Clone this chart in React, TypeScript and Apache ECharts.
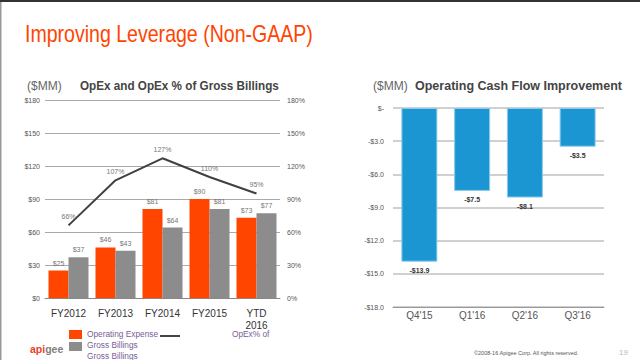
import React, { useEffect, useRef } from "react";
import * as echarts from "echarts";

const leftCategories = ["FY2012", "FY2013", "FY2014", "FY2015", "YTD\n2016"];
const opexValues = [25, 46, 81, 90, 73];
const billingsValues = [37, 43, 64, 81, 77];
const opexPctValues = [66, 107, 127, 110, 95];

const rightCategories = ["Q4'15", "Q1'16", "Q2'16", "Q3'16"];
const cashFlowValues = [-13.9, -7.5, -8.1, -3.5];

const FONT = "'Liberation Sans', Arial, sans-serif";

export default function App() {
  const ref = useRef<HTMLDivElement>(null);
  useEffect(() => {
    if (!ref.current) return;
    const chart = echarts.init(ref.current, undefined, { renderer: "svg" });
    chart.setOption({
      animation: false,
      textStyle: { fontFamily: FONT },
      grid: [
        { left: 45, top: 100, width: 235, height: 198 },
        { left: 393, top: 108, width: 211, height: 199 },
      ],
      xAxis: [
        {
          type: "category",
          gridIndex: 0,
          data: leftCategories,
          axisLine: { lineStyle: { color: "#888", width: 1 } },
          axisTick: { show: false },
          axisLabel: { color: "#333", fontSize: 10, margin: 9, lineHeight: 12, fontFamily: FONT },
        },
        {
          type: "category",
          gridIndex: 1,
          data: rightCategories,
          axisLine: { onZero: false, lineStyle: { color: "#999", width: 1 } },
          axisTick: { show: false },
          axisLabel: { color: "#555", fontSize: 10, margin: 3, fontFamily: FONT },
        },
      ],
      yAxis: [
        {
          type: "value",
          gridIndex: 0,
          min: 0,
          max: 180,
          interval: 30,
          axisLine: { show: false },
          axisTick: { show: false },
          splitLine: { lineStyle: { color: "#aaa", width: 1 } },
          axisLabel: { color: "#555", fontSize: 7, margin: 5, formatter: (v: number) => "$" + v },
        },
        {
          type: "value",
          gridIndex: 0,
          min: 0,
          max: 180,
          interval: 30,
          position: "right",
          axisLine: { show: false },
          axisTick: { show: false },
          splitLine: { show: false },
          axisLabel: { color: "#555", fontSize: 7, margin: 7, formatter: (v: number) => v + "%" },
        },
        {
          type: "value",
          gridIndex: 1,
          min: -18,
          max: 0,
          interval: 3,
          axisLine: { show: false },
          axisTick: { show: false },
          splitLine: { lineStyle: { color: "#d0d0d0", width: 2 } },
          axisLabel: {
            color: "#555",
            fontSize: 7,
            margin: 9,
            formatter: (v: number) => (v === 0 ? "$-" : "-$" + Math.abs(v).toFixed(1)),
          },
        },
      ],
      series: [
        {
          name: "Operating Expense",
          type: "bar",
          xAxisIndex: 0,
          yAxisIndex: 0,
          data: opexValues,
          barWidth: 20,
          barGap: "0%",
          itemStyle: { color: "#ff4500" },
          label: { show: true, position: "top", color: "#777", fontSize: 7, distance: 4, formatter: "${c}" },
        },
        {
          name: "Gross Billings",
          type: "bar",
          xAxisIndex: 0,
          yAxisIndex: 0,
          data: billingsValues,
          barWidth: 20,
          barGap: "0%",
          itemStyle: { color: "#8c8c8c" },
          label: { show: true, position: "top", color: "#777", fontSize: 7, distance: 4, formatter: "${c}" },
        },
        {
          name: "OpEx% of Gross Billings",
          type: "line",
          xAxisIndex: 0,
          yAxisIndex: 1,
          data: opexPctValues,
          symbol: "circle",
          symbolSize: 1,
          showSymbol: true,
          itemStyle: { color: "rgba(0,0,0,0)" },
          lineStyle: { color: "#404040", width: 2 },
          label: { show: true, position: "top", color: "#777", fontSize: 7, distance: 5, formatter: "{c}%" },
          z: 5,
        },
        {
          name: "Operating Cash Flow",
          type: "bar",
          xAxisIndex: 1,
          yAxisIndex: 2,
          data: cashFlowValues,
          barWidth: 36,
          itemStyle: { color: "#1b96d3", borderColor: "#8ccbeb", borderWidth: 1 },
          label: {
            show: true,
            position: "bottom",
            color: "#333",
            fontSize: 7,
            fontWeight: "bold",
            distance: 5,
            formatter: (p: any) => "-$" + Math.abs(p.value).toFixed(1),
          },
        },
      ],
      graphic: [
        { type: "rect", shape: { x: 0, y: 0, width: 640, height: 2 }, style: { fill: "#333" } },
        { type: "rect", shape: { x: 0, y: 2, width: 1.5, height: 358 }, style: { fill: "#999" } },
        {
          type: "text",
          x: 25,
          y: 34,
          scaleX: 0.815,
          style: {
            text: "Improving Leverage (Non-GAAP)",
            fill: "#ff4500",
            fontSize: 24,
            fontFamily: FONT,
            verticalAlign: "middle",
          },
        },
        {
          type: "text",
          x: 27,
          y: 86,
          style: { text: "($MM)", fill: "#666", fontSize: 12, fontFamily: FONT, verticalAlign: "middle" },
        },
        {
          type: "text",
          x: 80,
          y: 86,
          scaleX: 0.9,
          style: {
            text: "OpEx and OpEx % of Gross Billings",
            fill: "#444",
            fontSize: 13,
            fontWeight: "bold",
            fontFamily: FONT,
            verticalAlign: "middle",
          },
        },
        {
          type: "text",
          x: 373,
          y: 86,
          style: { text: "($MM)", fill: "#666", fontSize: 12, fontFamily: FONT, verticalAlign: "middle" },
        },
        {
          type: "text",
          x: 415,
          y: 86,
          style: {
            text: "Operating Cash Flow Improvement",
            fill: "#444",
            fontSize: 12.5,
            fontWeight: "bold",
            fontFamily: FONT,
            verticalAlign: "middle",
          },
        },
        { type: "rect", shape: { x: 69, y: 330, width: 13, height: 9 }, style: { fill: "#ff4500" } },
        { type: "rect", shape: { x: 69, y: 342, width: 13, height: 9 }, style: { fill: "#8c8c8c" } },
        {
          type: "line",
          shape: { x1: 160, y1: 336, x2: 180, y2: 336 },
          style: { stroke: "#444", lineWidth: 2 },
        },
        {
          type: "text",
          x: 87,
          y: 334,
          style: { text: "Operating Expense", fill: "#7a5c96", fontSize: 8.3, fontFamily: FONT, verticalAlign: "middle" },
        },
        {
          type: "text",
          x: 232,
          y: 334,
          style: { text: "OpEx% of", fill: "#7a5c96", fontSize: 8.3, fontFamily: FONT, verticalAlign: "middle" },
        },
        {
          type: "text",
          x: 87,
          y: 345,
          style: { text: "Gross Billings", fill: "#7a5c96", fontSize: 8.3, fontFamily: FONT, verticalAlign: "middle" },
        },
        {
          type: "text",
          x: 87,
          y: 356,
          style: { text: "Gross Billings", fill: "#7a5c96", fontSize: 8.3, fontFamily: FONT, verticalAlign: "middle" },
        },
        {
          type: "text",
          x: 30,
          y: 349,
          style: {
            text: "{a|api}{b|gee}",
            rich: {
              a: { fill: "#e8412c", fontSize: 10.5, fontWeight: "bold", fontFamily: FONT },
              b: { fill: "#7f7f7f", fontSize: 10.5, fontWeight: "bold", fontFamily: FONT },
            },
            verticalAlign: "middle",
          },
        },
        {
          type: "text",
          x: 474,
          y: 353,
          style: {
            text: "©2008-16 Apigee Corp. All rights reserved.",
            fill: "#555",
            fontSize: 5.5,
            fontFamily: FONT,
            verticalAlign: "middle",
          },
        },
        {
          type: "text",
          x: 619,
          y: 352,
          style: { text: "19", fill: "#bbb", fontSize: 8, fontFamily: FONT, verticalAlign: "middle" },
        },
      ],
    });
    return () => chart.dispose();
  }, []);
  return (
    <div
      ref={ref}
      style={{ position: "absolute", left: 0, top: 0, width: 640, height: 360, background: "#fff" }}
    />
  );
}
